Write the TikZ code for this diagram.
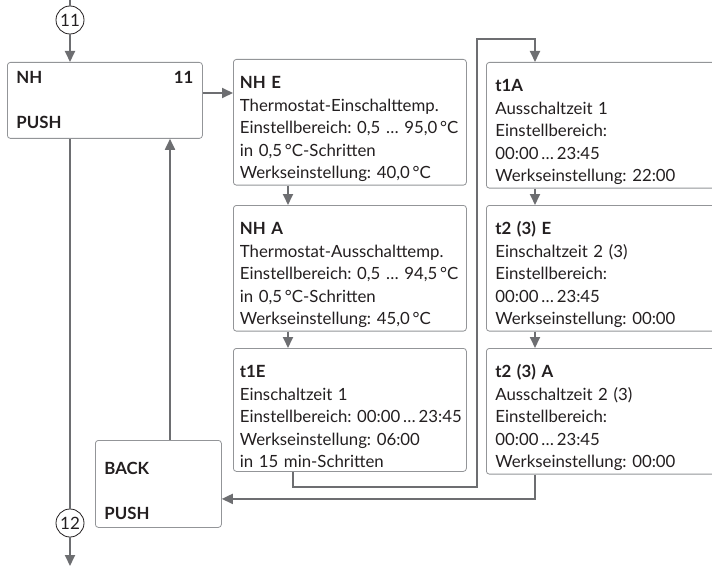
\documentclass[tikz,border=0pt]{standalone}
\usepackage{fontspec}
\setmainfont{Lato}
\usepackage{tikz}
\usetikzlibrary{arrows.meta,calc}
\definecolor{linegray}{HTML}{6D6E71}
\definecolor{boxline}{HTML}{939598}
\definecolor{ink}{HTML}{231F20}
\frenchspacing

\begin{document}
\begin{tikzpicture}[x=1pt,y=-1pt,
  box/.style={draw=boxline,line width=0.8pt,rounded corners=3pt,fill=white,anchor=north west,align=left,inner xsep=9pt,text=ink,font=\fontsize{16.8}{22.5}\selectfont},
  toppad/.style={execute at begin node={\rule{0pt}{26pt}}},
  midbox/.style={box,toppad,text width=220pt,inner xsep=6.5pt,minimum height=123pt},
  rightbox/.style={box,toppad,text width=220pt,minimum height=121pt},
  keybox/.style={box,font=\fontsize{16.8}{22.5}\selectfont\bfseries},
  num/.style={circle,draw=ink,line width=0.8pt,fill=white,minimum size=28pt,inner sep=0pt,text=ink,font=\fontsize{17}{20}\selectfont},
  ln/.style={line width=1.8pt,draw=linegray},
  arr/.style={ln,-{Triangle[length=11pt,width=10pt]},color=linegray}
]
\useasboundingbox (0,0) rectangle (712,567);
% menu entry and exit
\node[num] (c11) at (70,20) {11};
\node[num] (c12) at (70,523) {12};
\coordinate (in) at (70,0);
\coordinate (out) at (70,566);
\node[keybox,text width=177pt,minimum height=76pt] (nh) at (7,62) {NH\hfill 11\\[22.5pt]PUSH};
\node[keybox,toppad,text width=108pt,minimum height=87pt] (back) at (95,440) {BACK\\[22.5pt]PUSH};
% thermostat values
\node[midbox] (nhe) at (233,59) {\textbf{NH E}\\Thermostat-Einschalttemp.\\Einstellbereich:~0,5~…~95,0\,°C\\in 0,5\,°C-Schritten\\Werkseinstellung: 40,0\,°C};
\node[midbox] (nha) at (233,205) {\textbf{NH A}\\Thermostat-Ausschalttemp.\\Einstellbereich:~0,5~…~94,5\,°C\\in 0,5\,°C-Schritten\\Werkseinstellung: 45,0\,°C};
\node[midbox] (t1e) at (233,348) {\textbf{t1E}\\Einschaltzeit 1\\Einstellbereich:~00:00\,…\,23:45\\Werkseinstellung: 06:00\\in 15 min-Schritten};
% switching times
\node[rightbox] (t1a) at (486,62) {\textbf{t1A}\\Ausschaltzeit 1\\Einstellbereich:\\00:00\,…\,23:45\\Werkseinstellung: 22:00};
\node[rightbox] (t2e) at (486,205) {\textbf{t2 (3) E}\\Einschaltzeit 2 (3)\\Einstellbereich:\\00:00\,…\,23:45\\Werkseinstellung: 00:00};
\node[rightbox] (t2a) at (486,348) {\textbf{t2 (3) A}\\Ausschaltzeit 2 (3)\\Einstellbereich:\\00:00\,…\,23:45\\Werkseinstellung: 00:00};
\coordinate (j1) at (477,487);
\coordinate (j2) at (477,39);
% connectors
\draw[ln] (in) -- (c11);
\draw[arr] (c11) -- (c11 |- nh.north);
\draw[arr] ([yshift=-31pt]nh.north east) -- ([yshift=-31pt]nh.north east -| nhe.west);
\foreach \u/\v in {nhe/nha,nha/t1e} {\draw[arr] ([xshift=55pt]\u.south west) -- ([xshift=55pt]\v.north west);}
\foreach \u/\v in {t1a/t2e,t2e/t2a} {\draw[arr] ([xshift=49pt]\u.south west) -- ([xshift=49pt]\v.north west);}
\draw[arr] ([xshift=60pt]t1e.south west) |- (j1) -- (j2) -| ([xshift=49pt]t1a.north west);
\draw[arr] ([xshift=49pt]t2a.south west) |- ([yshift=-15pt]back.east);
\draw[arr] ([xshift=75pt]back.north west) -- ([xshift=75pt]back.north west |- nh.south);
\draw[ln] ([xshift=63pt]nh.south west) -- (c12);
\draw[arr] (c12) -- (out);
\end{tikzpicture}
\end{document}
